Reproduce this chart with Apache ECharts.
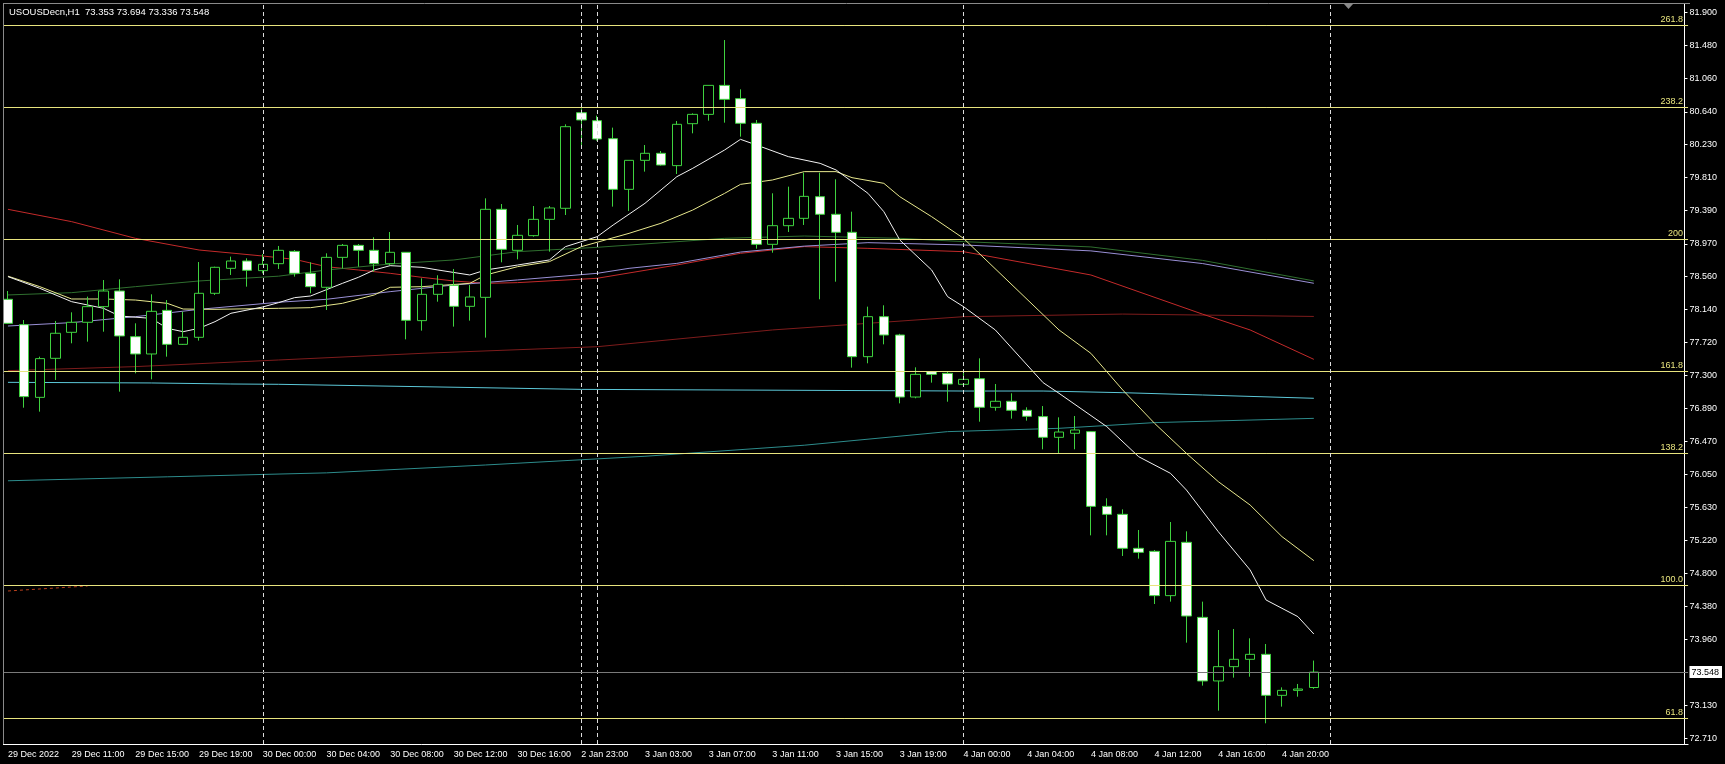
<!DOCTYPE html>
<html>
<head>
<meta charset="utf-8">
<title>USOUSDecn,H1</title>
<script src="https://cdn.jsdelivr.net/npm/echarts@6/dist/echarts.min.js"></script>
<style>
    html, body { margin: 0; padding: 0; background: #000; }
    #chart { width: 1725px; height: 764px; }
</style>
</head>
<body>
<div id="chart"></div>
<script>
// trading sessions shown on the chart: day, first hour, last hour (H1 bars)
var sessions = [['29 Dec', 7, 22], ['30 Dec', 0, 19], ['2 Jan', 23, 23], ['3 Jan', 0, 22], ['4 Jan', 0, 22]];
var firstLabel = '29 Dec 2022';
var shiftBars = 23;   // empty space on the right (chart shift)
var symbolName = 'USOUSDecn,H1';

// open, close, low, high
var ohlc = [
    [78.267, 77.963, 77.955, 78.372], [77.946, 77.035, 76.895, 78.005], [77.026, 77.516, 76.845, 77.541],
    [77.520, 77.837, 77.246, 77.993], [77.849, 77.976, 77.710, 78.102], [77.976, 78.174, 77.731, 78.301],
    [78.174, 78.372, 77.857, 78.511], [78.372, 77.803, 77.098, 78.520], [77.794, 77.575, 77.330, 77.963],
    [77.575, 78.115, 77.254, 78.330], [78.127, 77.697, 77.541, 78.258], [77.697, 77.786, 77.689, 78.111],
    [77.786, 78.343, 77.744, 78.739], [78.343, 78.672, 78.322, 78.680], [78.659, 78.752, 78.575, 78.807],
    [78.752, 78.634, 78.427, 78.786], [78.630, 78.710, 78.596, 78.840], [78.718, 78.887, 78.651, 78.942],
    [78.874, 78.596, 78.554, 78.891], [78.596, 78.427, 78.343, 78.735], [78.419, 78.798, 78.132, 78.849],
    [78.798, 78.950, 78.659, 78.967], [78.950, 78.887, 78.680, 78.967], [78.887, 78.718, 78.617, 79.052],
    [78.718, 78.862, 78.701, 79.119], [78.862, 78.001, 77.760, 78.862], [77.997, 78.330, 77.870, 78.533],
    [78.330, 78.457, 78.237, 78.571], [78.444, 78.178, 77.921, 78.651], [78.178, 78.296, 77.997, 78.448],
    [78.292, 79.406, 77.782, 79.545], [79.406, 78.900, 78.735, 79.473], [78.887, 79.077, 78.773, 79.208],
    [79.073, 79.279, 79.060, 79.448], [79.279, 79.423, 78.870, 79.448], [79.419, 80.452, 79.334, 80.482],
    [80.629, 80.537, 80.220, 80.684], [80.528, 80.296, 80.275, 80.592], [80.300, 79.659, 79.440, 80.440],
    [79.659, 80.026, 79.385, 80.026], [80.026, 80.115, 79.883, 80.220], [80.115, 79.967, 79.959, 80.144],
    [79.959, 80.482, 79.853, 80.524], [80.490, 80.608, 80.368, 80.621], [80.608, 80.975, 80.528, 80.975],
    [80.975, 80.798, 80.503, 81.549], [80.807, 80.495, 80.326, 80.925], [80.495, 78.963, 78.908, 80.537],
    [78.963, 79.199, 78.857, 79.609], [79.199, 79.292, 79.119, 79.693], [79.292, 79.570, 79.208, 79.870],
    [79.566, 79.343, 78.267, 79.870], [79.343, 79.115, 78.490, 79.786], [79.115, 77.541, 77.402, 79.376],
    [77.541, 78.047, 77.457, 78.174], [78.047, 77.815, 77.697, 78.191], [77.815, 77.030, 76.950, 77.830],
    [77.030, 77.317, 77.014, 77.406], [77.351, 77.317, 77.212, 77.351], [77.330, 77.195, 76.971, 77.351],
    [77.191, 77.254, 77.182, 77.351], [77.262, 76.900, 76.718, 77.520], [76.900, 76.976, 76.857, 77.195],
    [76.976, 76.862, 76.756, 77.077], [76.862, 76.786, 76.731, 76.900], [76.782, 76.520, 76.368, 76.916],
    [76.520, 76.587, 76.317, 76.773], [76.571, 76.613, 76.368, 76.790], [76.592, 75.646, 75.279, 76.600],
    [75.646, 75.545, 75.279, 75.748], [75.545, 75.115, 75.018, 75.608], [75.115, 75.064, 74.984, 75.347],
    [75.077, 74.516, 74.410, 75.094], [74.516, 75.203, 74.440, 75.448], [75.191, 74.258, 73.921, 75.330],
    [74.241, 73.436, 73.377, 74.440], [73.436, 73.617, 73.060, 74.081], [73.617, 73.710, 73.478, 74.094],
    [73.710, 73.773, 73.490, 73.976], [73.773, 73.254, 72.900, 73.904], [73.254, 73.317, 73.111, 73.355],
    [73.317, 73.334, 73.237, 73.398], [73.353, 73.548, 73.336, 73.694]
];

// moving averages, [bar index, price]
var maWhite = [[0, 78.554], [1.7, 78.406], [3.8, 78.237], [5.9, 78.153], [7.4, 78.056], [8.8, 78.026], [10.3, 77.900],
    [11.3, 77.857], [12.4, 77.900], [13.4, 77.984], [14.2, 78.090], [15.5, 78.170], [16.5, 78.225], [17.7, 78.288],
    [19.1, 78.309], [20.6, 78.469], [21.8, 78.545], [22.9, 78.638], [24.1, 78.693], [25.6, 78.672], [27.3, 78.638],
    [28.9, 78.575], [30.2, 78.638], [32.3, 78.701], [34.1, 78.765], [35.4, 78.933], [36.5, 79.060], [38.0, 79.207],
    [40.1, 79.482], [42.1, 79.819], [43.2, 79.925], [44.6, 80.157], [46.0, 80.292], [47.4, 80.220], [49.0, 80.073],
    [51.0, 79.988], [52.0, 79.904], [53.5, 79.609], [55.0, 79.376], [56.2, 79.018], [57.7, 78.638], [58.9, 78.301],
    [60.0, 78.174], [61.6, 77.879], [65.0, 77.212], [66.4, 77.077], [69.1, 76.655], [71.4, 76.275], [72.9, 76.064],
    [73.9, 75.853], [76.0, 75.326], [78.1, 74.841], [79.3, 74.461], [80.6, 74.250], [82, 74.030]];
var maYellow = [[0, 78.560], [1.7, 78.427], [4.0, 78.271], [5.9, 78.271], [8.0, 78.258], [10.1, 78.216], [11.3, 78.144],
    [13.0, 78.140], [16.5, 78.153], [19.1, 78.161], [21.0, 78.216], [22.5, 78.322], [23.9, 78.419], [26.4, 78.427],
    [28.9, 78.469], [30.2, 78.575], [32.3, 78.680], [33.9, 78.744], [35.9, 78.933], [39.0, 79.102], [41.1, 79.229],
    [43.2, 79.397], [45.3, 79.608], [46.4, 79.722], [48.1, 79.777], [50.0, 79.883], [51.8, 79.883], [53.3, 79.807],
    [54.8, 79.735], [56.0, 79.566], [57.7, 79.313], [59.6, 79.039], [66.2, 77.879], [68.1, 77.583], [70.4, 77.119],
    [72.3, 76.697], [74.3, 76.317], [76.4, 75.959], [78.1, 75.663], [80.2, 75.263], [82, 74.959]];
var maGreen = [[0, 78.322], [4.0, 78.351], [8.0, 78.427], [12.4, 78.499], [16.5, 78.560], [19.8, 78.638], [23.9, 78.714],
    [28.1, 78.765], [32.3, 78.870], [36.5, 78.925], [44.6, 79.039], [50.2, 79.068], [56.4, 79.039], [60.0, 78.997],
    [68.0, 78.930], [75.0, 78.760], [82, 78.500]];
var maPurple = [[0, 77.929], [4.0, 77.972], [8.0, 78.047], [12.4, 78.140], [16.5, 78.230], [19.8, 78.267], [23.9, 78.364],
    [28.1, 78.448], [32.3, 78.512], [36.5, 78.596], [39.0, 78.659], [41.8, 78.722], [46.0, 78.865], [50.2, 78.940],
    [54.3, 78.984], [60.0, 78.955], [68.0, 78.880], [75.0, 78.720], [82, 78.470]];
var maRed = [[0, 79.406], [4.0, 79.250], [8.4, 79.039], [12.4, 78.891], [15.6, 78.815], [17.7, 78.773], [19.8, 78.680],
    [21.8, 78.638], [23.9, 78.596], [26.0, 78.545], [28.1, 78.499], [30.2, 78.469], [32.3, 78.478], [36.5, 78.533],
    [41.8, 78.701], [46.0, 78.849], [50.2, 78.934], [54.3, 78.912], [60.0, 78.870], [68.4, 78.575], [75.3, 78.080],
    [77.7, 77.879], [82, 77.507]];
var maDarkRed = [[0, 77.364], [8.0, 77.415], [16.5, 77.499], [26.0, 77.583], [36.5, 77.667], [48.1, 77.879],
    [60.0, 78.047], [70.0, 78.080], [82, 78.050]];
var maCyan = [[0, 77.216], [9.4, 77.208], [13.6, 77.195], [16.5, 77.191], [35.6, 77.127], [60.0, 77.106],
    [64.5, 77.106], [69.8, 77.085], [75.0, 77.056], [82, 77.014]];
var maTeal = [[0, 75.970], [10, 76.020], [20, 76.070], [30, 76.170], [40, 76.280], [50, 76.420], [59.3, 76.592],
    [65.6, 76.634], [71.8, 76.706], [82, 76.760]];
var dotLine = [[0, 74.575], [4.5, 74.638]];

// fibonacci expansion levels
var fibNames = ['261.8', '238.2', '200', '161.8', '138.2', '100.0', '61.8'];
var fibLevels = [81.739, 80.699, 79.026, 77.358, 76.319, 74.646, 72.965];
var daySeparators = [16, 36, 37, 60, 83];
var priceTicks = [72.71, 73.13, 73.548, 73.96, 74.38, 74.8, 75.22, 75.63, 76.05, 76.47, 76.89, 77.3,
    77.72, 78.14, 78.56, 78.97, 79.39, 79.81, 80.23, 80.64, 81.06, 81.48, 81.9];
var lastPrice = 73.548;

var GREEN = '#3fd23f';
var FIB = '#e8e47e';
var FONT = 'Liberation Sans';

var cats = [];
sessions.forEach(function (s) {
    for (var h = s[1]; h <= s[2]; h++) {
        cats.push(s[0] + ' ' + (h < 10 ? '0' : '') + h + ':00');
    }
});
for (var k = 0; k < shiftBars; k++) cats.push('');

var candles = ohlc.map(function (r) { return [r[0], r[1], r[2], r[3]]; });
var last = ohlc[ohlc.length - 1];
var header = symbolName + '  ' + [last[0], last[3], last[2], last[1]].map(function (v) { return v.toFixed(3); }).join(' ');

function showTick(i) {
    return i % 4 === 0 && i < ohlc.length;
}

var marks = [];
fibLevels.forEach(function (v, i) {
    marks.push({
        yAxis: v,
        lineStyle: {color: FIB, width: 1, type: 'solid'},
        label: {show: true, position: 'insideEndTop', formatter: fibNames[i], color: FIB,
            fontSize: 9, fontFamily: FONT, distance: [5, 1]}
    });
});
daySeparators.forEach(function (i) {
    marks.push({xAxis: i, lineStyle: {color: '#dddddd', width: 1, type: [4, 3]}, label: {show: false}});
});
marks.push({yAxis: lastPrice, lineStyle: {color: '#7a7a7a', width: 1, type: 'solid'}, label: {show: false}});

function maSeries(data, color, extra) {
    var s = {
        type: 'line',
        data: data,
        showSymbol: false,
        symbol: 'none',
        z: 1,
        silent: true,
        lineStyle: {color: color, width: 1}
    };
    if (extra) s.lineStyle.type = extra;
    return s;
}

var myChart = echarts.init(document.getElementById('chart'));
var option = {
    backgroundColor: '#000',
    animation: false,
    title: {
        text: header,
        left: 9,
        top: 7,
        padding: 0,
        textStyle: {color: '#ffffff', fontSize: 9.5, fontWeight: 'normal', fontFamily: FONT}
    },
    grid: {left: -2.4, right: 31.4, top: 4, bottom: 20},
    xAxis: {
        type: 'category',
        data: cats,
        boundaryGap: true,
        axisLine: {lineStyle: {color: '#ffffff', width: 1}},
        axisTick: {alignWithLabel: true, length: 4, interval: showTick, lineStyle: {color: '#ffffff'}},
        axisLabel: {
            interval: showTick,
            align: 'left',
            color: '#ffffff',
            fontSize: 9,
            fontFamily: FONT,
            margin: 6,
            formatter: function (v, i) { return i === 0 ? firstLabel : v; }
        },
        splitLine: {show: false}
    },
    yAxis: {
        type: 'value',
        position: 'right',
        offset: -3.6,
        min: 72.638,
        max: 82.005,
        axisLine: {show: true, lineStyle: {color: '#ffffff', width: 1}},
        axisTick: {show: true, length: 3, lineStyle: {color: '#ffffff'}, customValues: priceTicks},
        axisLabel: {
            color: '#ffffff',
            fontSize: 9,
            fontFamily: FONT,
            margin: 5,
            customValues: priceTicks,
            formatter: function (v) {
                return v === lastPrice ? '{cur|' + v.toFixed(3) + '}' : v.toFixed(3);
            },
            rich: {
                cur: {backgroundColor: '#ffffff', color: '#000000', fontSize: 9, fontFamily: FONT, padding: [2, 3, 1, 2]}
            }
        },
        splitLine: {show: false}
    },
    series: [
        maSeries(maTeal, '#2d8c8c'),
        maSeries(maCyan, '#5cc8d8'),
        maSeries(maDarkRed, '#7e1c1c'),
        maSeries(maRed, '#c42a2a'),
        maSeries(maPurple, '#9a90d6'),
        maSeries(maGreen, '#2f6f2f'),
        maSeries(maYellow, '#e8e88e'),
        maSeries(maWhite, '#f2f2f2'),
        maSeries(dotLine, '#b8401c', [3, 3]),
        {
            type: 'candlestick',
            data: candles,
            barWidth: 10,
            z: 3,
            silent: true,
            itemStyle: {
                color: '#000000',
                color0: '#ffffff',
                borderColor: GREEN,
                borderColor0: GREEN,
                borderColorDoji: GREEN,
                borderWidth: 1
            },
            markLine: {
                symbol: ['none', 'none'],
                silent: true,
                animation: false,
                data: marks
            }
        }
    ],
    graphic: [
        {type: 'rect', z: 100, shape: {x: 0, y: 0, width: 3, height: 764}, style: {fill: '#000'}},
        {type: 'line', z: 101, shape: {x1: 3.5, y1: 3, x2: 3.5, y2: 744}, style: {stroke: '#8a8a8a', lineWidth: 1}},
        {type: 'line', z: 101, shape: {x1: 3, y1: 3.5, x2: 1690, y2: 3.5}, style: {stroke: '#8a8a8a', lineWidth: 1}},
        {type: 'polygon', z: 101, shape: {points: [[1344, 4], [1353, 4], [1348.5, 9]]}, style: {fill: '#8a8a8a'}}
    ]
};
myChart.setOption(option);
</script>
</body>
</html>
